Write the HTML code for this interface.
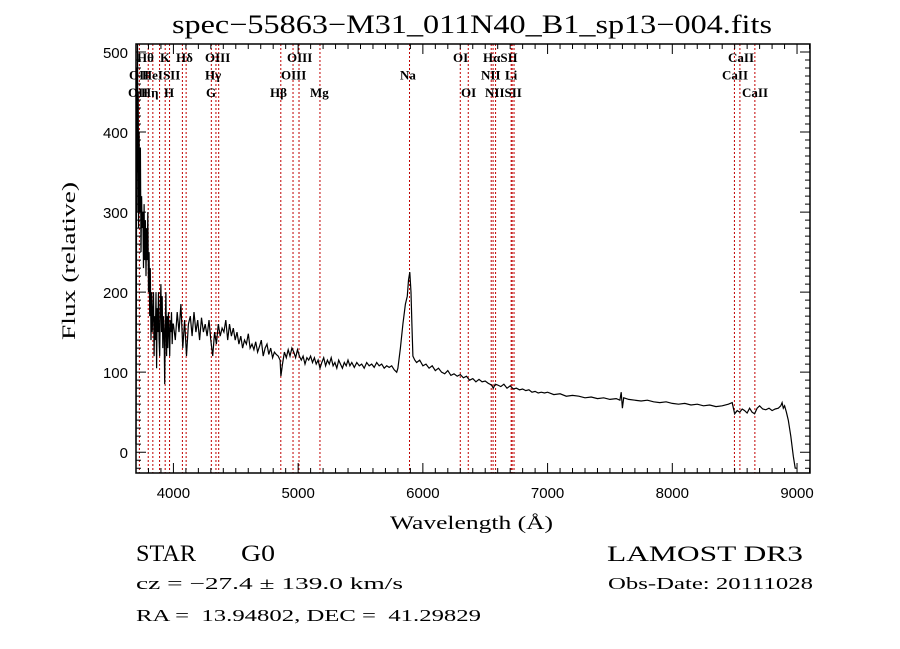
<!DOCTYPE html>
<html><head><meta charset="utf-8"><style>
body{margin:0;background:#fff;}
svg{display:block;font-family:"Liberation Serif",serif;}
text{white-space:pre;}
</style></head><body>
<svg id="chart" width="900" height="649" viewBox="0 0 900 649" xmlns="http://www.w3.org/2000/svg" xml:space="preserve">
<rect width="900" height="649" fill="#fff"/>
<text x="172" y="33" font-size="26" textLength="600" lengthAdjust="spacingAndGlyphs">spec−55863−M31_011N40_B1_sp13−004.fits</text>
<g id="lines"></g>
<g id="plot"></g>
<g id="axes"></g>
<text x="390" y="529" font-size="19" textLength="163" lengthAdjust="spacingAndGlyphs">Wavelength (Å)</text>
<text transform="translate(75,340) rotate(-90)" font-size="19" textLength="158" lengthAdjust="spacingAndGlyphs">Flux (relative)</text>
<text x="136" y="561" font-size="23" textLength="60" lengthAdjust="spacingAndGlyphs">STAR</text>
<text x="241" y="561" font-size="23" textLength="34" lengthAdjust="spacingAndGlyphs">G0</text>
<text x="607" y="561" font-size="22" textLength="196" lengthAdjust="spacingAndGlyphs">LAMOST DR3</text>
<text x="136" y="589" font-size="17" textLength="267" lengthAdjust="spacingAndGlyphs">cz = −27.4 ± 139.0 km/s</text>
<text x="608" y="589" font-size="17" textLength="205" lengthAdjust="spacingAndGlyphs">Obs-Date: 20111028</text>
<text x="136" y="621" font-size="17" textLength="345" lengthAdjust="spacingAndGlyphs">RA =  13.94802, DEC =  41.29829</text>
</svg>
<script>
const wave = [3700,3703,3706,3709,3712,3715,3718,3721,3725,3730,3735,3740,3745,3750,3755,3760,3765,3770,3775,3780,3785,3790,3795,3800,3805,3810,3815,3820,3825,3830,3840,3845,3850,3855,3860,3865,3870,3875,3880,3885,3890,3895,3900,3905,3910,3915,3920,3925,3930,3935,3940,3945,3950,3955,3960,3965,3970,3975,3980,3985,3990,3995,
4000,4015,4030,4045,4060,4075,4090,4105,4120,4135,4150,4165,4180,4195,4210,4225,4240,4255,4270,4285,4300,4315,4330,4345,4360,4375,4390,4405,4420,4435,4450,4465,4480,4495,
4510,4525,4540,4555,4570,4585,4600,4615,4630,4645,4660,4675,4690,4705,4720,4735,4750,4765,4780,4795,4810,4825,4840,4855,4862,4875,4890,4905,4920,4935,4950,4965,4980,4995,5010,5025,5040,5055,5070,5085,5100,5115,5130,5145,5160,5175,5190,5205,5220,5235,5250,5265,5280,5295,5310,5325,5340,5355,5370,5385,5400,5415,5430,5450,5470,5490,5510,5530,5550,5570,5590,5610,5630,5650,5670,5690,5710,5730,5750,5770,5790,5800,5820,5840,5860,5875,5885,5895,5905,5912,5920,5935,
5950,5975,6000,6025,6050,6075,6100,6125,6150,6175,6200,6225,6250,6275,6300,6325,6350,6375,6400,6425,6450,6475,6500,6525,6550,6565,6580,6600,6625,6650,6675,6700,6725,6750,6775,6800,6825,6850,6875,6900,6925,6950,6975,7000,7050,7100,7150,7200,7250,7300,7350,7400,7450,7500,7550,7580,7590,7600,7610,7650,7700,7750,7800,7850,7900,7950,8000,8050,8100,8150,8200,8250,8300,8350,8400,8450,8480,8490,8500,8520,8540,8560,8580,8600,8620,8640,8660,8680,8700,8725,8750,8775,8800,8825,8850,8870,8880,8890,8900,8915,8930,8950,8970,8985,9000];
const flux = [10,200,480,300,510,350,450,280,400,300,380,250,320,280,300,230,310,240,290,220,280,240,300,200,250,170,230,140,200,150,200,120,170,140,200,105,180,150,200,140,120,180,210,150,195,130,170,150,85,160,200,120,170,130,175,150,120,165,150,175,135,160,
160,140,175,150,185,130,165,120,160,170,145,175,150,165,140,168,150,160,145,165,140,120,150,135,160,145,155,150,165,140,160,145,155,140,
150,135,145,130,140,135,148,130,135,128,138,125,132,140,120,130,135,122,130,118,125,122,120,115,95,110,125,118,128,120,130,125,118,128,120,115,120,110,118,115,120,112,118,110,115,105,112,118,108,115,110,118,108,112,105,115,110,105,112,108,115,108,112,106,112,108,110,105,112,108,110,106,112,108,110,105,108,106,108,103,100,105,130,160,185,195,215,225,200,160,120,115,
112,115,108,110,105,108,102,105,100,98,102,96,98,95,97,93,95,90,92,88,91,88,89,86,84,80,85,84,82,85,80,83,79,80,78,79,77,78,75,76,74,75,74,75,72,73,70,71,70,68,69,67,68,66,67,65,75,55,68,66,65,64,65,63,62,63,61,60,61,59,60,58,59,57,58,60,62,55,48,52,50,54,52,49,55,50,48,55,58,54,53,55,52,54,55,58,62,55,58,50,40,20,-5,-20,-20];
const lineWaves = [3727,3798,3835,3889,3934,3969,4072,4102,4304,4341,4363,4861,4959,5007,5175,5893,6300,6364,6548,6563,6583,6708,6716,6731,8498,8542,8662];
const lineLabels = ["Hθ","K","Hδ","OIII","OIII","OI","HαSII","CaII","OII","HeISII","Hγ","OIII","Na","NII","Li","CaII","OII","Hη","H","G","Hβ","Mg","OI","NIISII","CaII"];
const labelX = [137,160,176,205,287,453,483,728,129,142,205,281,400,481,505,722,128,141,164,206,270,310,461,485,742];
const labelRow = [0,0,0,0,0,0,0,0,1,1,1,1,1,1,1,1,2,2,2,2,2,2,2,2,2];
const xTicks = [4000,5000,6000,7000,8000,9000];
const yTicks = [0,100,200,300,400,500];

const L=136,R=810,T=44,B=473,X0=3700,X1=9104,Y0=-26,Y1=510;
const sx=w=>L+(w-X0)/(X1-X0)*(R-L);
const sy=f=>B-(f-Y0)/(Y1-Y0)*(B-T);
const NS="http://www.w3.org/2000/svg";
function mk(tag,parent){const e=document.createElementNS(NS,tag);parent.appendChild(e);return e;}
const lines=document.getElementById('lines'),plot=document.getElementById('plot'),axes=document.getElementById('axes');

lineWaves.forEach(w=>{
  const l=mk('line',lines);
  
  
  l.setAttribute('x1',sx(w));l.setAttribute('x2',sx(w));l.setAttribute('y1',T);l.setAttribute('y2',B);
  l.setAttribute('stroke','#c00000');l.setAttribute('stroke-width','1');l.setAttribute('stroke-dasharray','2,2');
});
lineLabels.forEach((t,i)=>{
  const e=mk('text',lines);
  
  
  e.setAttribute('x',labelX[i]);e.setAttribute('y',62+labelRow[i]*17.5);
  e.setAttribute('font-size','13');e.setAttribute('font-weight','bold');
  e.textContent=t;
});

const p=mk('polyline',plot);


p.setAttribute('points',wave.map((w,i)=>sx(w).toFixed(1)+','+Math.max(T,Math.min(B,sy(flux[i]))).toFixed(1)).join(' '));
p.setAttribute('fill','none');p.setAttribute('stroke','#000');p.setAttribute('stroke-width','1.2');

const fr=mk('rect',axes);


fr.setAttribute('x',L);fr.setAttribute('y',T);fr.setAttribute('width',R-L);fr.setAttribute('height',B-T);
fr.setAttribute('fill','none');fr.setAttribute('stroke','#000');fr.setAttribute('stroke-width','1.5');

let d='';
for(let w=3800;w<X1;w+=100){const x=sx(w),len=(w%1000===0)?10:5;d+=`M${x},${B}v${-len}M${x},${T}v${len}`;}
for(let f=-20;f<Y1;f+=10){const y=sy(f),len=(f%100===0)?10:5;d+=`M${L},${y}h${len}M${R},${y}h${-len}`;}
const tk=mk('path',axes);


tk.setAttribute('d',d);tk.setAttribute('stroke','#000');tk.setAttribute('stroke-width','1');

xTicks.forEach(v=>{
  const e=mk('text',axes);
  
  
  e.setAttribute('x',sx(v));e.setAttribute('y',B+25);e.setAttribute('text-anchor','middle');
  e.setAttribute('font-family','Liberation Sans, sans-serif');e.setAttribute('font-size','15');
  e.textContent=v;
});
yTicks.forEach(v=>{
  const e=mk('text',axes);
  
  
  e.setAttribute('x',L-8);e.setAttribute('y',sy(v)+6);e.setAttribute('text-anchor','end');
  e.setAttribute('font-family','Liberation Sans, sans-serif');e.setAttribute('font-size','15');
  e.textContent=v;
});
</script>
</body></html>
